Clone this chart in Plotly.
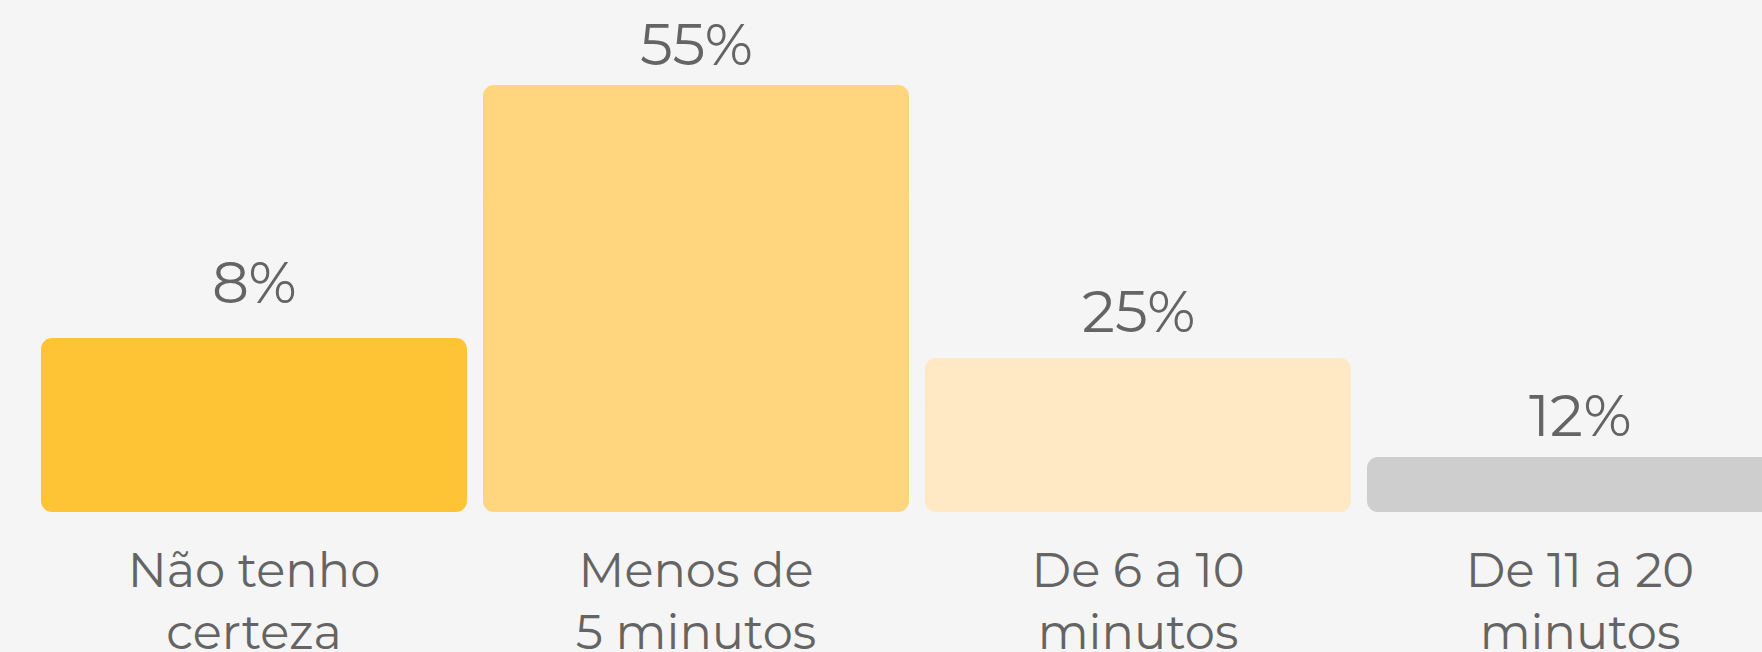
import plotly.graph_objects as go

# ---- data ----
categories = ["Não tenho<br>certeza", "Menos de<br>5 minutos", "De 6 a 10<br>minutos", "De 11 a 20<br>minutos"]
percent_labels = ["8%", "55%", "25%", "12%"]
bar_heights = [174, 427, 154, 55]          # visual bar heights as drawn in the picture

# ---- styles ----
bar_colors = ["#FFC436", "#FFD57D", "#FFE8C4", "#CECECE"]
label_gaps = [33, 18, 24, 19]               # gap between bar top and value label baseline (px)
text_color = "#646464"
bg = "#F5F5F5"
font_family = "Montserrat, 'Open Sans', sans-serif"

# split each bar into two overlapping halves so that both ends get rounded corners
upper_base = [h * 0.25 for h in bar_heights]
upper_len = [h - b for h, b in zip(bar_heights, upper_base)]
lower_base = [h * 0.75 for h in bar_heights]
lower_len = [-b for b in lower_base]

fig = go.Figure()
fig.add_trace(go.Bar(x=categories, y=upper_len, base=upper_base,
                     marker=dict(color=bar_colors, line=dict(width=0)),
                     hoverinfo="skip"))
fig.add_trace(go.Bar(x=categories, y=lower_len, base=lower_base,
                     marker=dict(color=bar_colors, line=dict(width=0)),
                     hoverinfo="skip"))

for cat, h, txt, gap in zip(categories, bar_heights, percent_labels, label_gaps):
    fig.add_annotation(x=cat, y=h, text=txt, showarrow=False,
                       yanchor="bottom", xanchor="center", yshift=gap - 15,
                       font=dict(family=font_family, size=58, color=text_color))

W, H = 1762, 652
plot_bottom = 512
spacing = 442.0
first_center = 254.0
x0 = -first_center / spacing
x1 = (W - first_center) / spacing

fig.update_layout(
    width=W, height=H,
    margin=dict(l=0, r=0, t=0, b=H - plot_bottom, pad=0),
    paper_bgcolor=bg, plot_bgcolor=bg,
    barmode="overlay", bargap=16 / 442, barcornerradius=11,
    showlegend=False,
    font=dict(family=font_family, color=text_color),
    xaxis=dict(range=[x0, x1], showgrid=False, zeroline=False, showline=False,
               ticks="", tickfont=dict(family=font_family, size=48, color=text_color),
               ticklabelstandoff=26, automargin=False, fixedrange=True),
    yaxis=dict(range=[0, plot_bottom], visible=False, showgrid=False,
               zeroline=False, automargin=False, fixedrange=True),
)

fig.write_html("out.html",
               config={"displayModeBar": False},
               post_script="document.body.style.margin='0px';document.body.style.background='#F5F5F5';")
